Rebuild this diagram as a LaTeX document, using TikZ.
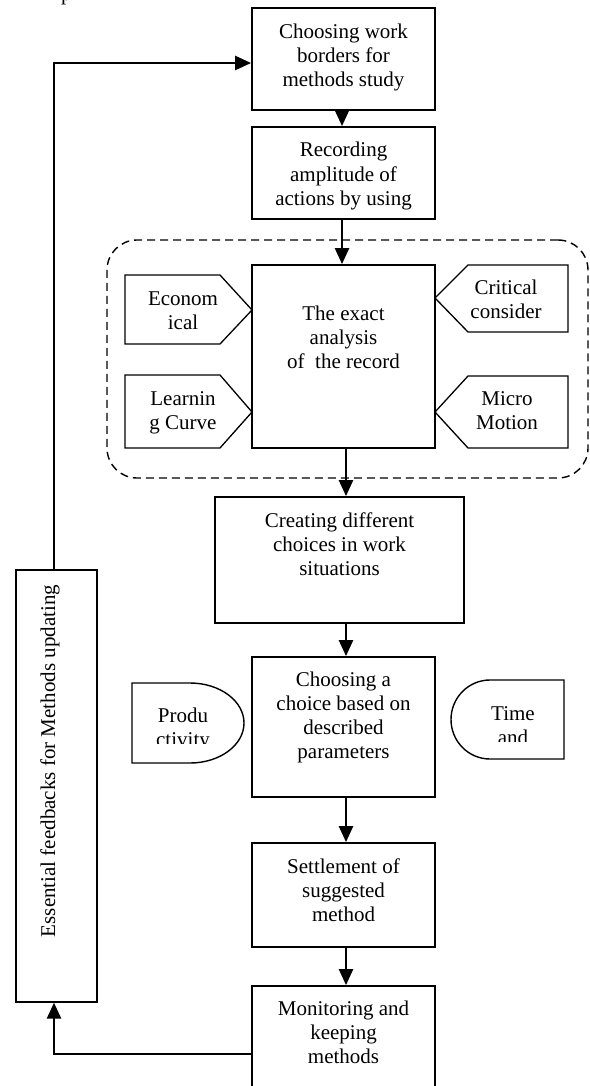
\documentclass[tikz,border=0pt]{standalone}
\usepackage{fontspec}
\setmainfont{Liberation Serif}
\usetikzlibrary{arrows.meta}
\begin{document}
\begin{tikzpicture}[x=1pt,y=-1pt,
  every node/.style={font=\fontsize{21}{24}\selectfont},
  stepbox/.style={draw, line width=1.8pt, rectangle, inner sep=0pt},
  txt/.style={align=center, inner sep=0pt, anchor=base},
  arr/.style={line width=2.5pt, -{Triangle[length=16pt,width=14pt]}},
  thin shape/.style={draw, line width=1.3pt},
  group/.style={draw, line width=1.4pt, dash pattern=on 8pt off 5pt, rounded corners=30pt, rectangle, inner sep=0pt}
]
\useasboundingbox (0,0) rectangle (589,1086);

% cut caption fragment
\node[anchor=base west, inner sep=0pt] (capfrag) at (61,1) {p};

% dashed group
\node[group, minimum width=481pt, minimum height=238pt] (grp) at (347.5,359) {};

% main boxes
\node[stepbox, minimum width=183pt, minimum height=102pt] (b1) at (343.5,59) {};
\node[stepbox, minimum width=183pt, minimum height=92pt] (b2) at (343.5,173) {};
\node[stepbox, minimum width=183pt, minimum height=183pt] (an) at (343.5,356.5) {};
\node[stepbox, minimum width=249pt, minimum height=126pt] (cr) at (339.5,560) {};
\node[stepbox, minimum width=183pt, minimum height=140pt] (ch) at (343.5,727) {};
\node[stepbox, minimum width=183pt, minimum height=104pt] (se) at (343.5,895) {};
\node[stepbox, minimum width=183pt, minimum height=114pt] (mo) at (343.5,1043) {};
\node[draw, line width=1.3pt, rectangle, inner sep=0pt, minimum width=81pt, minimum height=432pt] (fb) at (56.5,786) {};

% texts (anchor = baseline of last line)
\node[txt] (t1) at (343.5,87) {Choosing work\\borders for\\methods study};
\node[txt] (t2) at (343.5,205) {Recording\\amplitude of\\actions by using};
\node[txt] (t3) at (343.5,368) {The exact\\analysis\\of\ \ the record};
\node[txt] (t4) at (339.5,575) {Creating different\\choices in work\\situations};
\node[txt] (t5) at (343.5,758) {Choosing a\\choice based on\\described\\parameters};
\node[txt] (t6) at (343.5,921) {Settlement of\\suggested\\method};
\node[txt] (t7) at (343.5,1063) {Monitoring and\\keeping\\methods};
\node[inner sep=0pt, rotate=90] (tfb) at (50,761) {Essential feedbacks for Methods updating};

% pentagons
\draw[thin shape] (125,275) -- (220,275) -- (252,310) -- (220,344) -- (125,344) -- cycle;
\draw[thin shape] (125,375) -- (220,375) -- (252,412) -- (220,448) -- (125,448) -- cycle;
\draw[thin shape] (568,265) -- (468,265) -- (435,298) -- (468,332) -- (568,332) -- cycle;
\draw[thin shape] (568,376) -- (468,376) -- (435,412) -- (468,448) -- (568,448) -- cycle;
\node[txt] (econ) at (183,329) {Econom\\ical};
\node[txt] (learn) at (183,429) {Learnin\\g Curve};
\node[txt] (crit) at (506,318) {Critical\\consider};
\node[txt] (micro) at (507,429) {Micro\\Motion};

% D shapes
\draw[line width=1.4pt] (190,683) -- (132,683) -- (132,763) -- (190,763) arc[start angle=-90, end angle=90, x radius=54pt, y radius=40pt] -- cycle;
\draw[line width=1.4pt] (490,680) -- (564,680) -- (564,759) -- (490,759) arc[start angle=270, end angle=90, x radius=39pt, y radius=39.5pt] -- cycle;
\begin{scope}
\clip (134,690) rectangle (242,743.5);
\node[txt] (prod) at (183,746.5) {Produ\\ctivity};
\end{scope}
\begin{scope}
\clip (453,686) rectangle (562,741.5);
\node[txt] (time) at (513,744) {Time\\and};
\end{scope}

% connectors
\draw[arr] ([xshift=-1.5pt]b1.south) -- ([xshift=-1.5pt]b2.north);
\draw[arr] ([xshift=-1.5pt]b2.south) -- ([xshift=-1.5pt]an.north);
\draw[arr] ([xshift=2.5pt]an.south) -- ([xshift=2.5pt]an.south |- cr.north);
\draw[arr] ([xshift=2.5pt]ch.north |- cr.south) -- ([xshift=2.5pt]ch.north);
\draw[arr] ([xshift=2.5pt]ch.south) -- ([xshift=2.5pt]se.north);
\draw[arr] ([xshift=2.5pt]se.south) -- ([xshift=2.5pt]mo.north);
\draw[arr] ([yshift=-11pt]mo.west) -| ([xshift=-2.5pt]fb.south);
\draw[arr] ([xshift=-2.5pt]fb.north) |- ([yshift=-4pt]b1.west);
\end{tikzpicture}
\end{document}
